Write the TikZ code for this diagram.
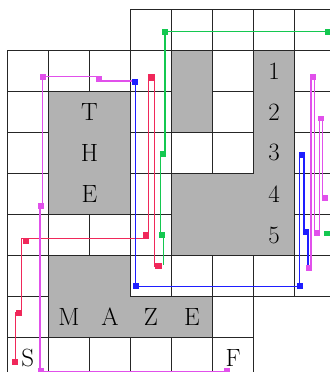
\documentclass[tikz,border=0pt]{standalone}
\definecolor{mzred}{RGB}{240,40,90}
\definecolor{mzgreen}{RGB}{20,200,80}
\definecolor{mzblue}{RGB}{30,30,255}
\definecolor{mzpink}{RGB}{225,80,235}
\begin{document}
\begin{tikzpicture}[
    cellgrid/.style={draw=black!85, line width=1.1pt},
    wall/.style={fill=black!30, draw=black!85, line width=1.1pt},
    route/.style={line width=1pt},
    dot/.style={rectangle, inner sep=0pt, minimum size=1.45mm},
    letter/.style={font=\LARGE}
]
\useasboundingbox (-0.178,0.163) rectangle (7.846,9.227);

% grid of the maze
\draw[cellgrid] (0,0) grid (6,2);
\draw[cellgrid] (0,2) grid (8,8);
\draw[cellgrid] (3,8) grid (8,9);

% walls
\draw[wall] (1,4) rectangle (3,7);
\draw[wall] (4,6) rectangle (5,8);
\draw[wall] (6,8) -- (7,8) -- (7,3) -- (4,3) -- (4,5) -- (6,5) -- cycle;
\draw[wall] (1,3) -- (3,3) -- (3,2) -- (5,2) -- (5,1) -- (1,1) -- cycle;

% letters
\node[letter] (t) at (2,6.5) {T};
\node[letter] (h) at (2,5.5) {H};
\node[letter] (e1) at (2,4.5) {E};
\node[letter] (m) at (1.5,1.5) {M};
\node[letter] (a) at (2.5,1.5) {A};
\node[letter] (z) at (3.5,1.5) {Z};
\node[letter] (e2) at (4.5,1.5) {E};
\node[letter] (n1) at (6.5,7.5) {1};
\node[letter] (n2) at (6.5,6.5) {2};
\node[letter] (n3) at (6.5,5.5) {3};
\node[letter] (n4) at (6.5,4.5) {4};
\node[letter] (n5) at (6.5,3.5) {5};
\node[letter] (s) at (0.5,0.5) {S};
\node[letter] (f) at (5.5,0.5) {F};

% red route
\draw[route, mzred] (0.205,0.40) -- (0.205,1.61) -- (0.35,1.61) -- (0.35,3.415)
    -- (3.44,3.415) -- (3.44,7.405) -- (3.585,7.405) -- (3.585,2.74) -- (3.69,2.74);
\node[dot, fill=mzred] (r1) at (0.18,0.40) {};
\node[dot, fill=mzred] (r2) at (0.285,1.61) {};
\node[dot, fill=mzred] (r3) at (0.449,3.356) {};
\node[dot, fill=mzred] (r4) at (3.376,3.495) {};
\node[dot, fill=mzred, minimum width=1.9mm] (r5) at (3.512,7.33) {};
\node[dot, fill=mzred, minimum width=1.8mm] (r6) at (3.69,2.74) {};

% green route
\draw[route, mzgreen] (3.80,2.78) -- (3.80,3.51) -- (3.735,3.51) -- (3.735,5.47)
    -- (3.84,5.47) -- (3.84,8.457) -- (7.90,8.457) -- (7.90,3.537) -- (7.80,3.537);
\node[dot, fill=mzgreen] (g1) at (3.78,3.51) {};
\node[dot, fill=mzgreen] (g2) at (3.79,5.47) {};
\node[dot, fill=mzgreen] (g3) at (3.846,8.446) {};
\node[dot, fill=mzgreen] (g4) at (7.81,8.457) {};
\node[dot, fill=mzgreen] (g5) at (7.80,3.537) {};

% pink route, left part
\draw[route, mzpink] (5.35,0.178) -- (0.80,0.178) -- (0.80,4.21) -- (0.863,4.21)
    -- (0.863,7.366) -- (2.244,7.366) -- (2.244,7.257) -- (3.115,7.257);
\node[dot, fill=mzpink] (pf) at (5.35,0.178) {};
\node[dot, fill=mzpink] (pe) at (0.815,0.185) {};
\node[dot, fill=mzpink] (pd) at (0.815,4.21) {};
\node[dot, fill=mzpink] (pa) at (0.878,7.34) {};
\node[dot, fill=mzpink] (pb) at (2.244,7.307) {};

% blue route
\draw[route, mzblue] (3.13,7.234) -- (3.13,2.25) -- (7.12,2.25) -- (7.12,5.45)
    -- (7.225,5.45) -- (7.225,3.576) -- (7.327,3.576) -- (7.327,2.707) -- (7.35,2.707);
\node[dot, fill=mzblue] (b1) at (3.115,7.234) {};
\node[dot, fill=mzblue] (b2) at (3.146,2.268) {};
\node[dot, fill=mzblue] (b3) at (7.12,2.268) {};
\node[dot, fill=mzblue] (b4) at (7.175,5.446) {};
\node[dot, fill=mzblue] (b5) at (7.285,3.576) {};

% pink route, right part
\draw[route, mzpink] (7.35,2.707) -- (7.40,2.707) -- (7.40,7.40) -- (7.488,7.40)
    -- (7.488,3.55) -- (7.60,3.55) -- (7.60,6.38) -- (7.68,6.38) -- (7.68,4.41) -- (7.75,4.41);
\node[dot, fill=mzpink] (p1) at (7.35,2.707) {};
\node[dot, fill=mzpink] (p2) at (7.444,7.36) {};
\node[dot, fill=mzpink] (p3) at (7.546,3.55) {};
\node[dot, fill=mzpink] (p4) at (7.644,6.34) {};
\node[dot, fill=mzpink] (p5) at (7.75,4.41) {};

\end{tikzpicture}
\end{document}
